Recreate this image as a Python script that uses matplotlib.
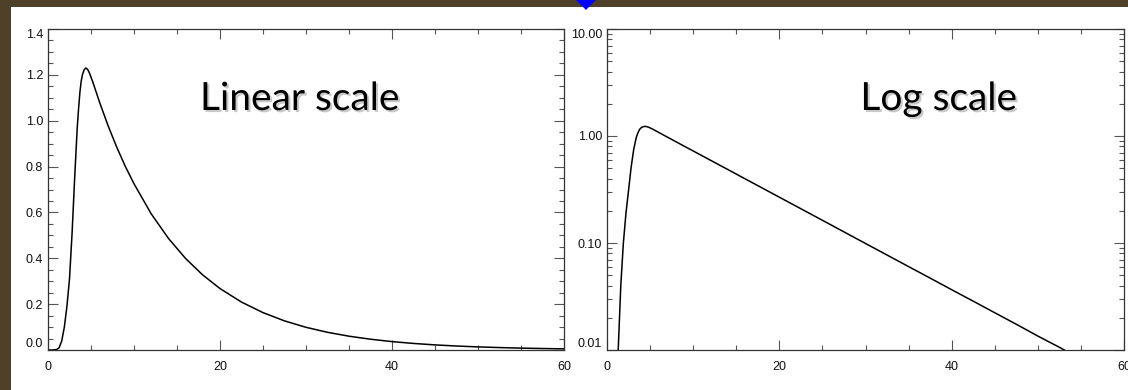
import matplotlib
matplotlib.use("Agg")
import matplotlib.pyplot as plt
import matplotlib.ticker as ticker
import matplotlib.patheffects as pe
from matplotlib.patches import Rectangle, Polygon
import numpy as np

# curve samples (x, y)
x_vals = [0.0, 0.5, 1.0, 1.3, 1.6, 1.9, 2.2, 2.5, 2.8, 3.1, 3.4, 3.55, 3.7, 3.85,
          4.0, 4.2, 4.4, 4.6, 4.8, 5.0, 5.2, 5.6, 6.0, 7.0, 8.0, 9.0, 10.0, 12.0,
          14.0, 16.0, 18.0, 20.0, 22.5, 25.0, 27.5, 30.0, 32.5, 35.0, 37.5, 40.0,
          42.5, 45.0, 47.5, 50.0, 52.5, 55.0, 57.5, 60.0]
y_vals = [0.0, 0.0, 0.002, 0.01, 0.04, 0.10, 0.19, 0.31, 0.51, 0.75, 0.97, 1.05,
          1.12, 1.17, 1.20, 1.222, 1.23, 1.224, 1.21, 1.19, 1.17, 1.125, 1.08,
          0.977, 0.884, 0.800, 0.725, 0.594, 0.487, 0.399, 0.327, 0.268, 0.209,
          0.163, 0.127, 0.099, 0.0772, 0.0602, 0.0470, 0.0366, 0.0286, 0.0223,
          0.0174, 0.0135, 0.0106, 0.0082, 0.0064, 0.0050]

lin_ticks = [0.0, 0.2, 0.4, 0.6, 0.8, 1.0, 1.2, 1.4]
log_ticks = [0.01, 0.1, 1.0, 10.0]
x_ticks = [0, 20, 40, 60]
titles = ["Linear scale", "Log scale"]

W, H = 1128, 390
fig = plt.figure(figsize=(W / 100, H / 100), dpi=100)
fig.patch.set_facecolor("#4f4029")

# white slide area and the little blue marker at the top
fig.patches.append(Rectangle((11 / W, 0), 1 - 11 / W, (H - 7) / H,
                             transform=fig.transFigure, facecolor="white",
                             edgecolor="none", zorder=-5))
cx, cy, r = 586, -1, 11
fig.patches.append(Polygon([((cx - r) / W, (H - cy) / H), (cx / W, (H - cy - r) / H),
                            ((cx + r) / W, (H - cy) / H), (cx / W, (H - cy + r) / H)],
                           closed=True, transform=fig.transFigure,
                           facecolor="#0000ff", edgecolor="none", zorder=5))

ax1 = fig.add_axes([48 / W, 40 / H, 516 / W, 321 / H], zorder=2)
ax2 = fig.add_axes([607 / W, 40 / H, 517 / W, 321 / H], zorder=2)

tick_font = {"family": "Liberation Sans", "size": 9}

for ax in (ax1, ax2):
    ax.set_facecolor("none")
    ax.plot(x_vals, y_vals, color="black", lw=1.1)
    ax.set_xlim(0, 60)
    ax.set_xticks(x_ticks)
    ax.xaxis.set_minor_locator(ticker.MultipleLocator(5))
    for s in ax.spines.values():
        s.set_color("#333333")
        s.set_linewidth(0.9)
    ax.tick_params(which="both", direction="in", top=True, right=True,
                   color="#555555", width=0.8, labelcolor="#111111")
    ax.tick_params(which="major", length=7)
    ax.tick_params(which="minor", length=3.6)
    ax.tick_params(axis="x", pad=8)
    ax.tick_params(axis="y", pad=3.5)

ax1.set_ylim(0, 1.4)
ax1.set_yticks(lin_ticks)
ax1.yaxis.set_minor_locator(ticker.MultipleLocator(0.05))
ax1.yaxis.set_major_formatter(ticker.FormatStrFormatter("%.1f"))

ax2.set_yscale("log")
ax2.set_ylim(0.01, 10)
ax2.set_yticks(log_ticks)
ax2.yaxis.set_minor_locator(ticker.LogLocator(base=10, subs=np.arange(2, 10)))
ax2.yaxis.set_minor_formatter(ticker.NullFormatter())
ax2.yaxis.set_major_formatter(ticker.FormatStrFormatter("%.2f"))

for ax in (ax1, ax2):
    for lab in ax.get_xticklabels() + ax.get_yticklabels():
        lab.set_fontfamily(tick_font["family"])
        lab.set_fontsize(tick_font["size"])
    ylabs = ax.get_yticklabels()
    ylabs[0].set_va("bottom")
    ylabs[-1].set_va("top")

# headline text with a soft drop shadow
shadow = [pe.SimplePatchShadow(offset=(1.5, -1.5), shadow_rgbFace="#888888", alpha=0.45),
          pe.Normal()]
fig.text(200 / W, (H - 110) / H, titles[0], family="Lato", fontsize=28,
         ha="left", va="baseline", color="black", path_effects=shadow, zorder=3)
fig.text(1017 / W, (H - 110) / H, titles[1], family="Lato", fontsize=28,
         ha="right", va="baseline", color="black", path_effects=shadow, zorder=3)

fig.savefig("out.png", dpi=100, facecolor=fig.get_facecolor())
